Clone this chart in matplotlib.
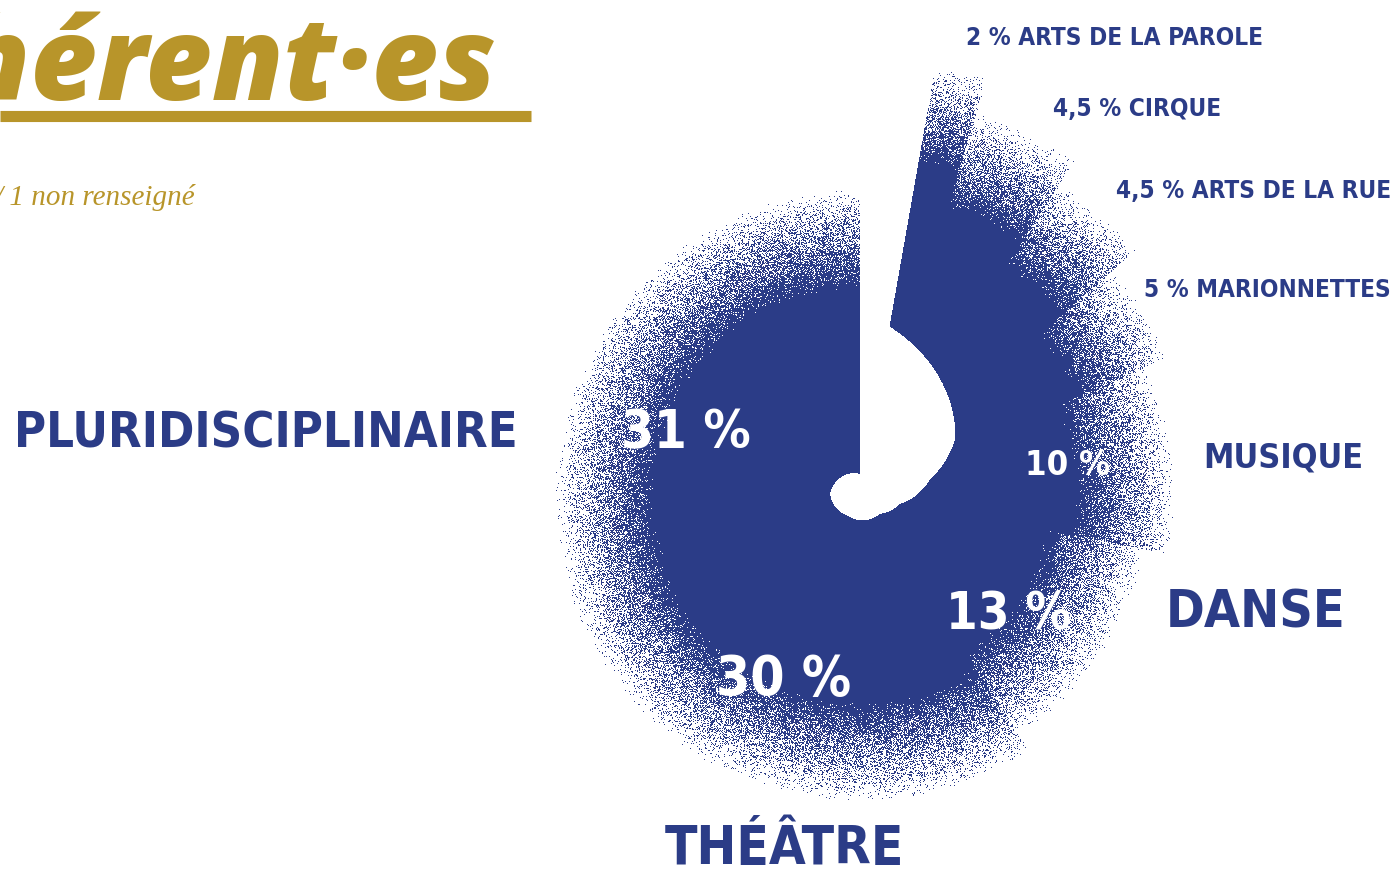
import os
import numpy as np
import matplotlib
matplotlib.use("Agg")
import matplotlib.pyplot as plt
from matplotlib import font_manager as fm

# data (clockwise from the top)
categories = ["ARTS DE LA PAROLE", "CIRQUE", "ARTS DE LA RUE", "MARIONNETTES",
              "MUSIQUE", "DANSE", "THÉÂTRE", "PLURIDISCIPLINAIRE"]
shares = [2, 4.5, 4.5, 5, 10, 13, 30, 31]

title = "adhérent·es"
subtitle = "/ 1 non renseigné"

# style
W, H = 1396, 879
BLUE = "#2b3c87"
GOLD = "#b8952a"
cx, cy = 860, 495          # pie centre in pixels
gap = 10                   # empty wedge left at the top
start_ang = 90 - gap       # first slice starts here (deg, ccw from east)
outer = [435, 398, 369, 338, 315, 290, 308, 305]
band = 100                 # width of the dotted fade
# radius of the white hole, along the clockwise angle from start_ang
hole_t = [0, 25, 50, 68, 94, 125, 200, 260, 350]
hole_r = [170, 140, 110, 72, 41, 28, 25, 30, 20]

files = [f.fname for f in fm.fontManager.ttflist]
prefs = ["DejaVuSansCondensed-Bold", "LiberationSansNarrow-Bold",
         "RobotoCondensed-Bold", "Roboto-Bold"]
cond_file = None
for p in prefs:
    hits = [f for f in files if os.path.basename(f).startswith(p + ".")]
    if hits:
        cond_file = hits[0]
        break
if cond_file:
    cond_fp = fm.FontProperties(fname=cond_file)
else:
    cond_fp = fm.FontProperties(family="DejaVu Sans", weight="bold")

fig = plt.figure(figsize=(W / 100, H / 100), dpi=100)
ax = fig.add_axes([0, 0, 1, 1])
ax.set_xlim(0, W)
ax.set_ylim(H, 0)
ax.axis("off")

# stippled pie as a pixel image
X, Y = np.meshgrid(np.arange(W) + 0.5, np.arange(H) + 0.5)
r = np.hypot(X - cx, cy - Y)
phi = np.degrees(np.arctan2(cy - Y, X - cx))
t = (start_ang - phi) % 360
k = (360 - gap) / 100
bounds = np.concatenate([[0], np.cumsum(shares)]) * k
idx = np.clip(np.searchsorted(bounds, t, side="right") - 1, 0, len(shares) - 1)
inside = t < bounds[-1]
r_out = np.array(outer)[idx]
r_in = np.interp(t, hole_t, hole_r)
dens = np.clip((r_out - r) / band, 0, 1)
rng = np.random.default_rng(7)
noise = rng.random((H, W))
on = inside & (r >= r_in) & (noise < dens)

rgb = matplotlib.colors.to_rgb(BLUE)
img = np.zeros((H, W, 4))
img[..., 0], img[..., 1], img[..., 2] = rgb
img[..., 3] = on.astype(float)
ax.imshow(img, extent=(0, W, H, 0), interpolation="nearest")

renderer = fig.canvas.get_renderer()


def label(x, y, txt, cap, maxw, color=BLUE, ha="left", right_lim=None):
    tx = ax.text(x, y, txt, ha=ha, va="baseline", color=color,
                 fontproperties=cond_fp)
    tx.set_fontsize(cap)
    w = tx.get_window_extent(renderer).width
    if w > maxw:
        tx.set_fontsize(cap * maxw / w)
        w = maxw
    if right_lim is not None and x + w > right_lim:
        tx.set_x(right_lim - w)
    return tx


def pct(v):
    return f"{v:g} %".replace(".", ",")


# small slices: percent + name outside, all in one size
small_pos = [(966, 45), (1053, 116), (1124, 198), (1170, 297)]
for i, (x, y) in enumerate(small_pos):
    label(x, y, f"{pct(shares[i])} {categories[i]}", 17.5, 1000, right_lim=1391)

# big slices: name outside, percent inside in white
big_pos = {4: ((1203, 468, 40, 160, "left"), (1068, 475, 42, 85)),
           5: ((1166, 628, 60, 180, "left"), (1009, 630, 62, 125)),
           6: ((784, 864, 60, 240, "center"), (784, 695, 61, 135)),
           7: ((14, 448, 58, 503, "left"), (686, 448, 60, 130))}
for i, (name_p, val_p) in big_pos.items():
    label(name_p[0], name_p[1], categories[i], name_p[2], name_p[3], ha=name_p[4])
    label(val_p[0], val_p[1], pct(shares[i]), val_p[2], val_p[3], color="white", ha="center")

# heading
ax.text(497, 100, title, ha="right", va="baseline", color=GOLD, fontsize=83,
        family="Open Sans", weight=800, style="italic")
ax.plot([0, 531], [117, 117], color=GOLD, lw=8, solid_capstyle="butt")
ax.text(195, 205, subtitle, ha="right", va="baseline", color=GOLD, fontsize=21,
        family="Liberation Serif", style="italic")

fig.savefig("out.png", dpi=100)
